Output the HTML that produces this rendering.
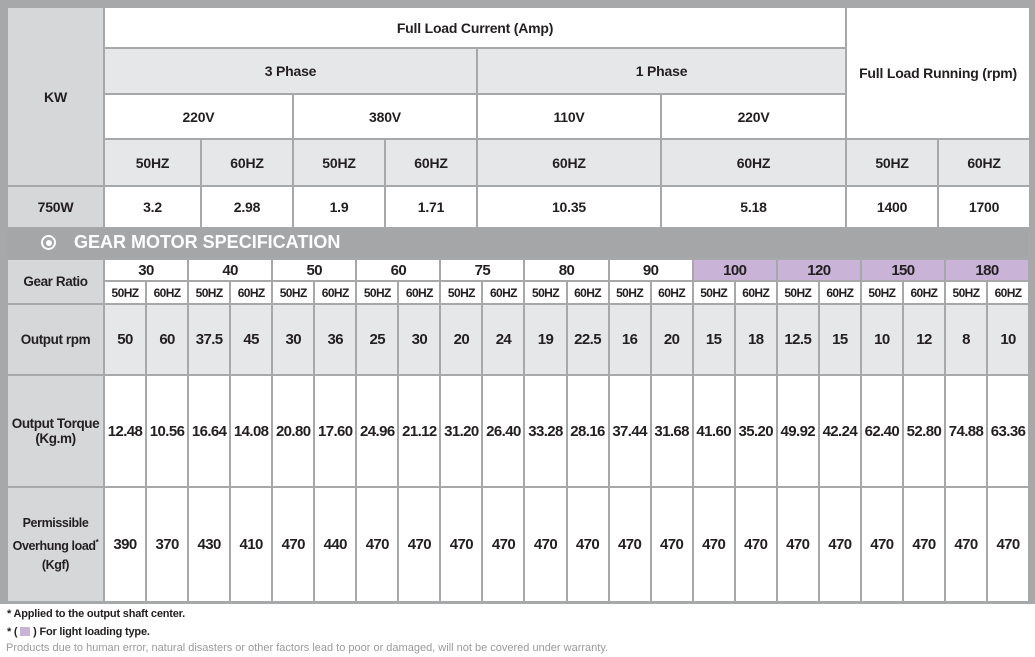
<!DOCTYPE html>
<html><head><meta charset="utf-8"><style>
html,body{margin:0;padding:0;background:#fff;width:1035px;height:657px;overflow:hidden}
body{position:relative;font-family:"Liberation Sans",sans-serif;font-weight:bold;color:#231f20}
.frame{position:absolute;left:0;top:0;width:1035px;height:604px;background:#a7a8aa}
table{position:absolute;border-collapse:collapse;table-layout:fixed}
td{border:2px solid #a7a8aa;text-align:center;vertical-align:middle;padding:0;overflow:hidden;white-space:nowrap}
#t1{left:6px;top:6px;width:1023px}
#t1 td{font-size:14px;letter-spacing:-0.2px}
.w{background:#fff}.g{background:#e6e7e9}.l{background:#d6d7d9}.p{background:#c9b3d7}
#t2{left:6px;top:258px;width:1023px}
#t2 td{font-size:15px;letter-spacing:-0.6px}
#t2 .hz td{font-size:12px;letter-spacing:-0.6px}
#t2 td.lab{font-size:13.5px;letter-spacing:-0.4px}
.band{position:absolute;left:7px;top:228px;width:1021px;height:29px;background:#a5a6a8;color:#fff;font-size:18px;line-height:29px;letter-spacing:0px}
.band .c{position:absolute;left:34px;top:7px;width:11px;height:11px;border:2px solid #fff;border-radius:50%}
.band .c:after{content:"";position:absolute;left:2.5px;top:2.5px;width:6px;height:6px;border-radius:50%;background:#fff}
.band span{position:absolute;left:67px}
.f{position:absolute;left:7px;font-size:11px;color:#231f20;letter-spacing:-0.2px}
.f3{position:absolute;left:6px;top:642px;font-weight:normal;font-size:11px;color:#9a9a9a}
</style></head><body>
<div class="frame"></div>
<table id="t1">
<colgroup><col style="width:97px"><col style="width:97px"><col style="width:92px"><col style="width:92px"><col style="width:92px"><col style="width:184px"><col style="width:185px"><col style="width:92px"><col style="width:92px"></colgroup>
<tr style="height:41px"><td class="l" rowspan="4">KW</td><td class="w" colspan="6">Full Load Current (Amp)</td><td class="w" colspan="2" rowspan="3">Full Load Running (rpm)</td></tr>
<tr style="height:46px"><td class="g" colspan="4">3 Phase</td><td class="g" colspan="2">1 Phase</td></tr>
<tr style="height:45px"><td class="w" colspan="2">220V</td><td class="w" colspan="2">380V</td><td class="w">110V</td><td class="w">220V</td></tr>
<tr style="height:47px"><td class="g">50HZ</td><td class="g">60HZ</td><td class="g">50HZ</td><td class="g">60HZ</td><td class="g">60HZ</td><td class="g">60HZ</td><td class="g">50HZ</td><td class="g">60HZ</td></tr>
<tr style="height:42px"><td class="l">750W</td><td class="w">3.2</td><td class="w">2.98</td><td class="w">1.9</td><td class="w">1.71</td><td class="w">10.35</td><td class="w">5.18</td><td class="w">1400</td><td class="w">1700</td></tr>
</table>
<div class="band"><div class="c"></div><span>GEAR MOTOR SPECIFICATION</span></div>
<table id="t2">
<colgroup><col style="width:97px"><col span="22" style="width:42.05px"></colgroup>
<tr style="height:22px"><td class="l lab" rowspan="2">Gear Ratio</td><td class="w" colspan="2">30</td><td class="w" colspan="2">40</td><td class="w" colspan="2">50</td><td class="w" colspan="2">60</td><td class="w" colspan="2">75</td><td class="w" colspan="2">80</td><td class="w" colspan="2">90</td><td class="p" colspan="2">100</td><td class="p" colspan="2">120</td><td class="p" colspan="2">150</td><td class="p" colspan="2">180</td></tr>
<tr class="hz" style="height:23px"><td class="w">50HZ</td><td class="w">60HZ</td><td class="w">50HZ</td><td class="w">60HZ</td><td class="w">50HZ</td><td class="w">60HZ</td><td class="w">50HZ</td><td class="w">60HZ</td><td class="w">50HZ</td><td class="w">60HZ</td><td class="w">50HZ</td><td class="w">60HZ</td><td class="w">50HZ</td><td class="w">60HZ</td><td class="w">50HZ</td><td class="w">60HZ</td><td class="w">50HZ</td><td class="w">60HZ</td><td class="w">50HZ</td><td class="w">60HZ</td><td class="w">50HZ</td><td class="w">60HZ</td></tr>
<tr style="height:71px"><td class="l lab">Output rpm</td><td class="g">50</td><td class="g">60</td><td class="g">37.5</td><td class="g">45</td><td class="g">30</td><td class="g">36</td><td class="g">25</td><td class="g">30</td><td class="g">20</td><td class="g">24</td><td class="g">19</td><td class="g">22.5</td><td class="g">16</td><td class="g">20</td><td class="g">15</td><td class="g">18</td><td class="g">12.5</td><td class="g">15</td><td class="g">10</td><td class="g">12</td><td class="g">8</td><td class="g">10</td></tr>
<tr style="height:112px"><td class="l lab">Output Torque<br>(Kg.m)</td><td class="w">12.48</td><td class="w">10.56</td><td class="w">16.64</td><td class="w">14.08</td><td class="w">20.80</td><td class="w">17.60</td><td class="w">24.96</td><td class="w">21.12</td><td class="w">31.20</td><td class="w">26.40</td><td class="w">33.28</td><td class="w">28.16</td><td class="w">37.44</td><td class="w">31.68</td><td class="w">41.60</td><td class="w">35.20</td><td class="w">49.92</td><td class="w">42.24</td><td class="w">62.40</td><td class="w">52.80</td><td class="w">74.88</td><td class="w">63.36</td></tr>
<tr style="height:115px"><td class="l lab" style="line-height:19px;font-size:12.5px">Permissible<br>Overhung load<sup style="font-size:8px">*</sup><br>(Kgf)</td><td class="w">390</td><td class="w">370</td><td class="w">430</td><td class="w">410</td><td class="w">470</td><td class="w">440</td><td class="w">470</td><td class="w">470</td><td class="w">470</td><td class="w">470</td><td class="w">470</td><td class="w">470</td><td class="w">470</td><td class="w">470</td><td class="w">470</td><td class="w">470</td><td class="w">470</td><td class="w">470</td><td class="w">470</td><td class="w">470</td><td class="w">470</td><td class="w">470</td></tr>
</table>
<div class="f" style="top:608px">* Applied to the output shaft center.</div>
<div class="f" style="top:626px">* ( <span style="display:inline-block;width:10px;height:9px;background:#c9b3d7;vertical-align:-1px"></span> ) For light loading type.</div>
<div class="f3">Products due to human error, natural disasters or other factors lead to poor or damaged, will not be covered under warranty.</div>
</body></html>
